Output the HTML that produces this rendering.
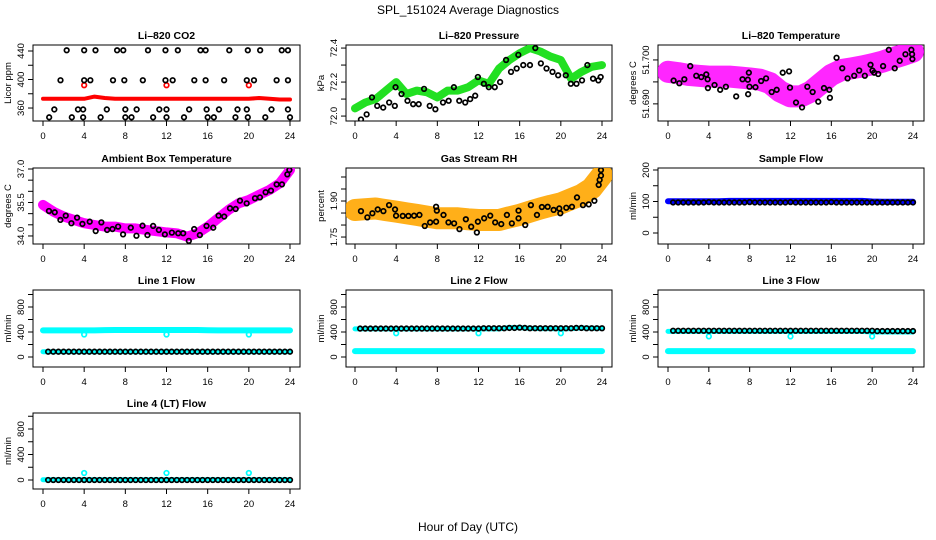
<!DOCTYPE html>
<html><head><meta charset="utf-8"><style>
html,body{margin:0;padding:0;background:#fff;}
svg{display:block;font-family:"Liberation Sans",Arial,sans-serif;}
</style></head><body>
<svg id="chart" width="936" height="540" viewBox="0 0 936 540" xmlns="http://www.w3.org/2000/svg">
<rect width="936" height="540" fill="#fff"/>
<text x="468" y="14" text-anchor="middle" font-size="12">SPL_151024  Average Diagnostics</text>
<text x="468" y="531" text-anchor="middle" font-size="12">Hour of Day (UTC)</text>
</svg>
<script>
// ---------- data ----------
const hours24 = [0,1,2,3,4,5,6,7,8,9,10,11,12,13,14,15,16,17,18,19,20,21,22,23,24];
const halfHours = [0.5,1,1.5,2,2.5,3,3.5,4,4.5,5,5.5,6,6.5,7,7.5,8,8.5,9,9.5,10,10.5,11,11.5,12,12.5,13,13.5,14,14.5,15,15.5,16,16.5,17,17.5,18,18.5,19,19.5,20,20.5,21,21.5,22,22.5,23,23.5,24];
const xTicks = [0,4,8,12,16,20,24];
const spikeHours = [4,12,20];

// CO2
const co2Red = [373,373,373,373,373,376,374,373,373,373,373,373,373,373,373,373,373,373,373,373,373,374,373,372,372];
const co2RedSpikes = [392,392,392];
const co2BlackHours = [2.3,4.0,5.1,7.2,7.8,10.2,11.9,13.1,15.3,15.8,18.1,19.9,21.1,23.2,23.8, 1.7,4.0,4.6,6.8,7.9,9.7,11.9,12.6,14.7,15.8,17.6,19.8,20.5,22.7,23.8, 1.1,3.4,3.9,6.2,8.0,9.1,11.3,12.0,14.2,15.9,17.1,18.9,19.8,22.2,23.8, 0.6,2.8,3.9,5.6,8.0,8.6,10.7,12.0,13.7,16.0,16.6,18.7,19.9,21.6,24.0];
const co2BlackVals = [441,441,441,441,441,441,441,441,441,441,441,441,441,441,441, 399,399,399,399,399,399,399,399,399,399,399,399,399,399,399, 358,358,358,358,358,358,358,358,358,358,358,358,358,358,358, 347,347,347,347,347,347,347,347,347,347,347,347,347,347,347];

// Pressure
const presGreen = [72.045,72.08,72.1,72.15,72.2,72.13,72.15,72.14,72.11,72.15,72.15,72.17,72.21,72.19,72.28,72.33,72.37,72.4,72.38,72.35,72.33,72.22,72.26,72.29,72.3];
const presBlackHours = [0.58,1.13,1.65,2.16,2.74,3.32,3.87,3.94,4.52,5.10,5.65,6.19,6.71,7.26,7.81,8.55,9.10,9.61,10.13,10.71,11.19,11.68,11.94,12.52,13.0,13.58,14.1,14.68,15.16,15.71,15.87,16.35,17.0,17.52,18.06,18.61,19.19,19.74,20.48,20.97,21.52,22.06,22.58,23.13,23.65,23.87];
const presBlackVals = [71.98,72.01,72.11,72.06,72.05,72.08,72.06,72.17,72.13,72.09,72.07,72.07,72.16,72.06,72.04,72.08,72.09,72.17,72.09,72.08,72.10,72.12,72.23,72.19,72.17,72.17,72.2,72.33,72.26,72.28,72.36,72.3,72.3,72.4,72.31,72.28,72.26,72.24,72.24,72.19,72.19,72.21,72.3,72.22,72.21,72.23];

// Li-820 temperature
const tempMag = [51.6973,51.6970,51.6966,51.6964,51.6962,51.6962,51.6962,51.6960,51.6958,51.6955,51.6947,51.6928,51.6917,51.6917,51.6928,51.6947,51.6966,51.6977,51.6981,51.6985,51.6990,51.6996,51.7004,51.7011,51.7019];
const tempBlackHours = [0.55,1.11,1.60,2.18,2.77,3.26,3.75,3.88,3.91,4.56,5.11,5.67,6.68,7.30,7.82,7.85,7.92,7.98,8.57,9.12,9.61,10.16,10.65,11.24,11.86,11.95,12.54,13.13,13.65,14.17,14.72,15.28,15.80,15.86,16.51,17.07,17.59,18.24,18.73,19.28,19.84,20.03,20.20,20.59,21.07,21.63,22.21,22.70,23.26,23.84,23.91,23.94];
const tempBlackVals = [51.6953,51.6947,51.6956,51.6986,51.6964,51.6961,51.6967,51.6956,51.6936,51.6943,51.6932,51.6939,51.6917,51.6956,51.6955,51.6922,51.6971,51.6939,51.6938,51.6952,51.6958,51.6927,51.6932,51.6971,51.6974,51.6937,51.6903,51.6892,51.6939,51.6927,51.6905,51.6936,51.6932,51.6914,51.7005,51.6981,51.6958,51.6964,51.6976,51.6964,51.6989,51.6976,51.6971,51.6968,51.6986,51.7023,51.6981,51.6998,51.7013,51.7023,51.7013,51.7002];

// Ambient box temperature
const ambMag = [35.39,35.09,34.87,34.72,34.57,34.49,34.42,34.42,34.34,34.34,34.27,34.22,34.16,34.12,33.97,34.12,34.42,34.79,35.16,35.46,35.61,35.84,36.06,36.36,36.96];
const ambBlackHours = [0.58,1.14,1.69,2.21,2.76,3.31,3.83,4.54,5.12,5.67,6.23,6.75,7.30,7.78,8.53,9.08,9.67,10.15,10.70,11.26,11.84,12.52,13.14,13.62,14.17,14.69,15.24,15.89,16.54,17.06,17.61,18.17,18.72,19.14,19.79,20.60,21.08,21.63,22.15,22.70,23.22,23.74,23.94];
const ambBlackVals = [35.12,35.06,34.72,34.91,34.57,34.82,34.54,34.64,34.22,34.61,34.27,34.31,34.42,34.07,34.37,34.01,34.46,34.04,34.45,34.27,34.07,34.15,34.12,34.12,33.78,34.31,34.04,34.45,34.37,34.91,34.87,35.24,35.21,35.58,35.46,35.69,35.73,35.96,36.03,36.31,36.31,36.76,36.96];

// Gas stream RH
const rhOrange = [1.8625,1.866,1.869,1.862,1.856,1.849,1.842,1.835,1.828,1.828,1.828,1.824,1.821,1.821,1.821,1.832,1.842,1.856,1.869,1.880,1.890,1.908,1.925,1.953,2.008];
const rhBlackHours = [0.58,1.20,1.69,2.21,2.76,3.31,3.89,3.99,4.64,5.19,5.74,6.26,6.78,7.30,7.88,7.88,7.95,8.60,9.08,9.63,10.15,10.77,11.29,11.84,11.94,12.55,13.14,13.62,14.21,14.76,15.24,15.89,15.89,16.54,17.09,17.68,18.16,18.72,19.30,19.85,19.95,20.53,21.08,21.57,22.15,22.71,23.26,23.68,23.77,23.90,23.90];
const rhBlackVals = [1.858,1.832,1.849,1.865,1.858,1.883,1.865,1.839,1.838,1.838,1.839,1.842,1.796,1.811,1.814,1.876,1.860,1.842,1.811,1.807,1.783,1.824,1.793,1.769,1.814,1.828,1.839,1.811,1.804,1.842,1.807,1.828,1.860,1.800,1.883,1.842,1.875,1.876,1.863,1.869,1.849,1.872,1.876,1.915,1.883,1.886,1.901,1.967,1.988,2.006,2.029];

// Sample flow
const sampleBlue = [101,101,101,101,101,101,102,102,102,102,102,102,102,102,102,102,102,102,102,102,100,99,99,99,99];
const sampleBlack = [97,97,97,97,97,97,97,98,97,97,97,97,97,97,97,98,97,97,97,97,97,97,97,98,97,97,97,97,97,97,97,98,97,97,97,97,97,97,97,97,97,97,97,97,97,97,97,97];

// Line flows
const line1CyanHigh = [425,425,425,425,425,425,430,432,432,432,432,432,432,432,432,432,428,425,425,425,425,425,425,425,425];
const line1CyanLow = [85,85,85,85,85,85,85,85,85,85,85,85,85,85,85,85,85,85,85,85,85,85,85,85,85];
const line1Spikes = [360,360,360];
const line1Black = [85,85,85,85,85,85,85,85,85,85,85,85,85,85,85,85,85,85,85,85,85,85,85,85,85,85,85,85,85,85,85,85,85,85,85,85,85,85,85,85,85,85,85,85,85,85,85,85];

const line2CyanHigh = [450,450,450,450,450,450,450,450,450,450,450,450,450,450,450,470,470,460,455,455,450,455,465,460,460];
const line2CyanLow = [95,95,95,95,95,95,95,95,95,95,95,95,95,95,95,95,95,95,95,95,95,95,95,95,95];
const line2Spikes = [380,380,380];
const line2Black = [455,455,455,455,455,455,455,455,455,455,455,455,455,455,455,455,455,455,455,455,455,455,455,455,460,460,460,460,460,465,465,470,465,460,460,460,460,460,460,460,460,460,465,465,460,460,460,460];

const line3CyanHigh = [410,410,410,410,410,410,410,410,410,410,410,410,410,410,410,410,410,410,410,410,400,400,400,400,400];
const line3CyanLow = [95,95,95,95,95,95,95,95,95,95,95,95,95,95,95,95,95,95,95,95,95,95,95,95,95];
const line3Spikes = [330,330,330];
const line3Black = [420,420,420,420,420,420,420,420,420,420,420,420,420,420,420,420,420,420,420,420,420,420,420,420,420,420,420,420,420,420,420,420,420,420,420,420,420,420,420,420,415,415,415,415,415,415,415,415];

const line4Cyan = [5,5,5,5,5,5,5,5,5,5,5,5,5,5,5,5,5,5,5,5,5,5,5,5,5];
const line4Spikes = [110,110,110];
const line4Black = [0,0,0,0,0,0,0,0,0,0,0,0,0,0,0,0,0,0,0,0,0,0,0,0,0,0,0,0,0,0,0,0,0,0,0,0,0,0,0,0,0,0,0,0,0,0,0,0];

// ---------- drawing ----------
const NS = 'http://www.w3.org/2000/svg';
const svg = document.getElementById('chart');
const COLS = [{L:33,R:300,x0:43,x24:290},{L:346,R:612,x0:355,x24:602},{L:658,R:924,x0:668,x24:913}];
const ROWS = [{T:45,B:121},{T:168,B:244},{T:290,B:367},{T:413,B:489}];

function mk(tag, attrs, parent){
  const e = document.createElementNS(NS, tag);
  for (const k in attrs) e.setAttribute(k, attrs[k]);
  (parent||svg).appendChild(e);
  return e;
}

function panel(name, title, ylab, col, row, vmin, vmax, yticks, ylabels, fmt){
  const c = COLS[col], r = ROWS[row];
  const g = mk('g', {});
  
  
  const xs = h => c.x0 + h * (c.x24 - c.x0) / 24;
  const ys = v => r.T + (vmax - v) / (vmax - vmin) * (r.B - r.T);
  const t = mk('text', {x:(c.L+c.R)/2, y:r.T-6, 'text-anchor':'middle', 'font-size':'10.5', 'font-weight':'bold'}, g);
  t.textContent = title;
  
  
  const box = mk('rect', {x:c.L, y:r.T, width:c.R-c.L, height:r.B-r.T, fill:'none', stroke:'#000', 'stroke-width':'1'}, g);
  
  
  const xa = mk('g', {}, g);
  
  
  xTicks.forEach(h => {
    mk('line', {x1:xs(h), x2:xs(h), y1:r.B, y2:r.B+5, stroke:'#000'}, xa);
    const tl = mk('text', {x:xs(h), y:r.B+18, 'text-anchor':'middle', 'font-size':'9.5'}, xa);
    tl.textContent = h;
  });
  const ya = mk('g', {}, g);
  
  
  yticks.forEach(v => {
    mk('line', {x1:c.L-5, x2:c.L, y1:ys(v), y2:ys(v), stroke:'#000'}, ya);
  });
  ylabels.forEach(v => {
    const yy = ys(v), xx = c.L - 9;
    const tl = mk('text', {x:xx, y:yy, 'text-anchor':'middle', 'font-size':'9.5', transform:`rotate(-90 ${xx} ${yy})`}, ya);
    tl.textContent = fmt(v);
  });
  const yt = mk('text', {x:c.L-22, y:(r.T+r.B)/2, 'text-anchor':'middle', 'font-size':'9.5', transform:`rotate(-90 ${c.L-22} ${(r.T+r.B)/2})`}, g);
  yt.textContent = ylab;
  
  
  const clipId = 'clip-' + name;
  const cp = mk('clipPath', {id:clipId}, g);
  mk('rect', {x:c.L, y:r.T, width:c.R-c.L, height:r.B-r.T}, cp);
  const marks = mk('g', {'clip-path':`url(#${clipId})`}, g);
  return {xs, ys, marks};
}

function band(p, hrs, vals, color, width, name, op){
  const pts = hrs.map((h,i) => p.xs(h).toFixed(1) + ',' + p.ys(vals[i]).toFixed(1)).join(' ');
  const pl = mk('polyline', {points:pts, fill:'none', stroke:color, 'stroke-width':width, 'stroke-linejoin':'round', 'stroke-linecap':'round', 'stroke-opacity':op||1}, p.marks);
  
  
}
function dots(p, hrs, vals, color, name, rad){
  const g = mk('g', {}, p.marks);
  
  
  hrs.forEach((h,i) => {
    const cc = mk('circle', {cx:p.xs(h), cy:p.ys(vals[i]), r:rad||2.3, fill:'none', stroke:color, 'stroke-width':'1.7'}, g);
    
    
  });
}

const f0 = v => String(v);
const f1 = v => v.toFixed(1);
const f2 = v => v.toFixed(2);
const f3 = v => v.toFixed(3);

// CO2
let p = panel('co2', 'Li–820 CO2', 'Licor ppm', 0, 0, 341.8, 448.4, [360,380,400,420,440], [360,400,440], f0);
band(p, hours24, co2Red, '#ff0000', 4, 'co2-red-series');
dots(p, spikeHours, co2RedSpikes, '#ff0000', 'co2-red-spikes');
dots(p, co2BlackHours, co2BlackVals, '#000', 'co2-black-series');

// Pressure
p = panel('pressure', 'Li–820 Pressure', 'kPa', 1, 0, 71.971, 72.418, [72.0,72.1,72.2,72.3,72.4], [72.0,72.2,72.4], f1);
band(p, hours24, presGreen, '#22e022', 8, 'pressure-green-series');
dots(p, presBlackHours, presBlackVals, '#000', 'pressure-black-series');

// Temperature
p = panel('li820-temp', 'Li–820 Temperature', 'degrees C', 2, 0, 51.6861, 51.7034, [51.690,51.695,51.700], [51.690,51.700], f3);
band(p, hours24, tempMag, '#ff00ff', 22, 'temp-magenta-series', 0.85);
dots(p, tempBlackHours, tempBlackVals, '#000', 'temp-black-series');

// Ambient
p = panel('ambient', 'Ambient Box Temperature', 'degrees C', 0, 1, 33.64, 37.045, [34.0,34.5,35.0,35.5,36.0,36.5,37.0], [34.0,35.5,37.0], f1);
band(p, hours24, ambMag, '#ff00ff', 10, 'ambient-magenta-series');
dots(p, ambBlackHours, ambBlackVals, '#000', 'ambient-black-series');

// RH
p = panel('rh', 'Gas Stream RH', 'percent', 1, 1, 1.721, 2.0375, [1.75,1.80,1.85,1.90,1.95,2.00], [1.75,1.90], f2);
band(p, hours24, rhOrange, '#ffa600', 22, 'rh-orange-series', 0.9);
dots(p, rhBlackHours, rhBlackVals, '#000', 'rh-black-series');

// Sample flow
p = panel('sample-flow', 'Sample Flow', 'ml/min', 2, 1, -34.9, 206.3, [0,50,100,150,200], [0,100,200], f0);
band(p, hours24, sampleBlue, '#0000ff', 6, 'sample-blue-series');
dots(p, halfHours, sampleBlack, '#000', 'sample-black-series');

const flowTicks = [0,200,400,600,800,1000], flowLabels = [0,400,800];
// Line 1
p = panel('line1', 'Line 1 Flow', 'ml/min', 0, 2, -160, 1072, flowTicks, flowLabels, f0);
band(p, hours24, line1CyanHigh, '#00ffff', 6, 'line1-cyan-high');
band(p, hours24, line1CyanLow, '#00ffff', 5, 'line1-cyan-low');
dots(p, spikeHours, line1Spikes, '#00ffff', 'line1-cyan-spikes');
dots(p, halfHours, line1Black, '#000', 'line1-black-series');
// Line 2
p = panel('line2', 'Line 2 Flow', 'ml/min', 1, 2, -160, 1072, flowTicks, flowLabels, f0);
band(p, hours24, line2CyanHigh, '#00ffff', 5, 'line2-cyan-high');
band(p, hours24, line2CyanLow, '#00ffff', 6, 'line2-cyan-low');
dots(p, spikeHours, line2Spikes, '#00ffff', 'line2-cyan-spikes');
dots(p, halfHours, line2Black, '#000', 'line2-black-series');
// Line 3
p = panel('line3', 'Line 3 Flow', 'ml/min', 2, 2, -160, 1072, flowTicks, flowLabels, f0);
band(p, hours24, line3CyanHigh, '#00ffff', 5, 'line3-cyan-high');
band(p, hours24, line3CyanLow, '#00ffff', 6, 'line3-cyan-low');
dots(p, spikeHours, line3Spikes, '#00ffff', 'line3-cyan-spikes');
dots(p, halfHours, line3Black, '#000', 'line3-black-series');
// Line 4
p = panel('line4', 'Line 4 (LT) Flow', 'ml/min', 0, 3, -141, 1051, flowTicks, flowLabels, f0);
band(p, hours24, line4Cyan, '#00ffff', 5, 'line4-cyan-series');
dots(p, spikeHours, line4Spikes, '#00ffff', 'line4-cyan-spikes');
dots(p, halfHours, line4Black, '#000', 'line4-black-series');
</script>
</body></html>
